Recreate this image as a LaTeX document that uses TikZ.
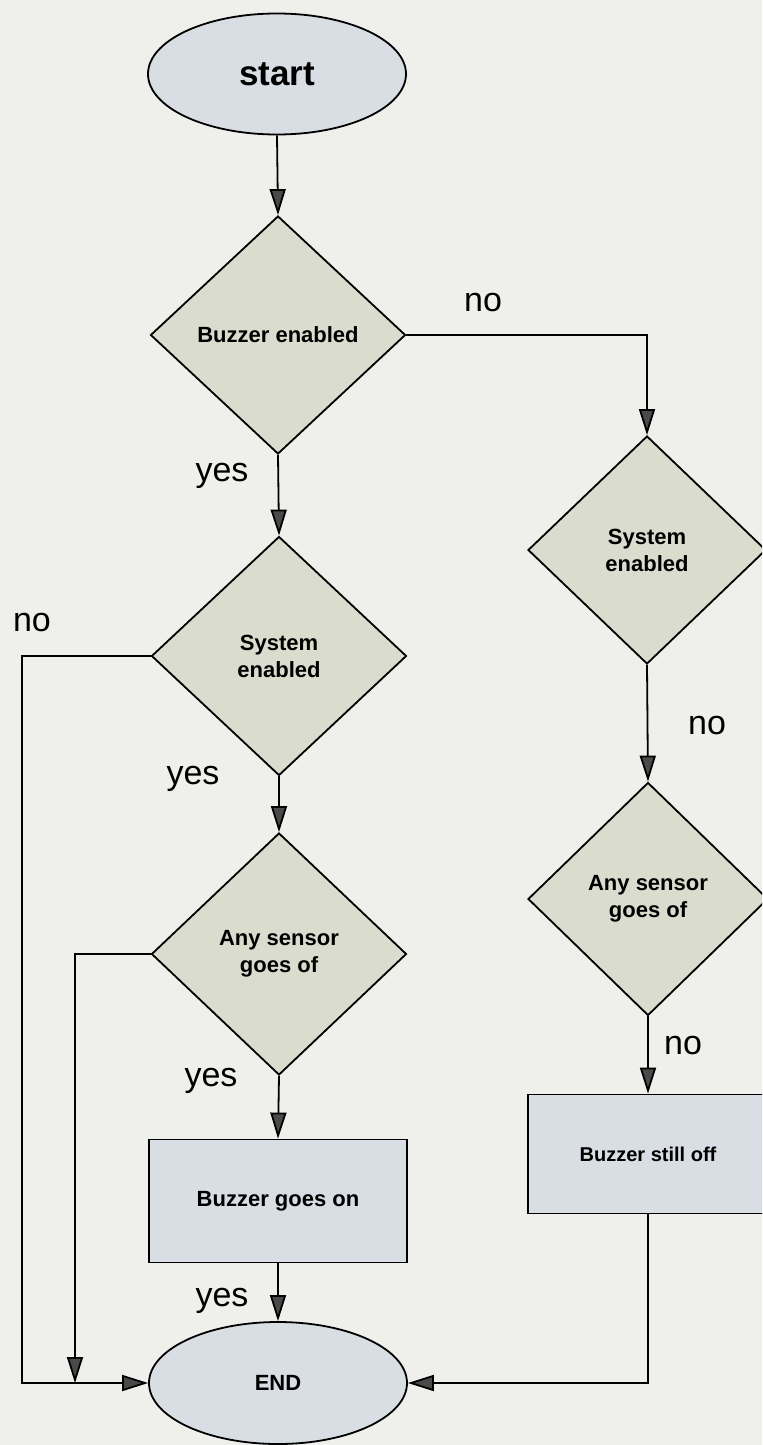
\documentclass[tikz,border=0pt]{standalone}
\usepackage{fontspec}
\setmainfont{Liberation Sans}
\usetikzlibrary{shapes.geometric,arrows.meta,calc}

\definecolor{paper}{HTML}{EFEFEC}
\definecolor{decfill}{HTML}{DADDCE}
\definecolor{termfill}{HTML}{D8DEE4}
\definecolor{tipgray}{HTML}{4A4A4A}

\tikzset{
  shapeline/.style={draw=black, line width=1.8bp},
  terminal/.style={shapeline, ellipse, fill=termfill, inner sep=0pt,
    minimum width=258bp, minimum height=121bp,
    font=\bfseries\fontsize{22bp}{27bp}\selectfont},
  decision/.style={shapeline, diamond, fill=decfill, inner sep=0pt, align=center,
    font=\bfseries\fontsize{22bp}{27bp}\selectfont},
  process/.style={shapeline, rectangle, fill=termfill, inner sep=0pt,
    minimum height=122bp, font=\bfseries\fontsize{22bp}{27bp}\selectfont},
  flow/.style={draw=black, line width=1.8bp,
    -{Triangle[length=26bp,width=16bp,fill=tipgray]}},
  answer/.style={anchor=base, inner sep=0pt, font=\fontsize{34bp}{40bp}\selectfont},
}

\begin{document}
\begin{tikzpicture}[x=1bp, y=-1bp]
  \useasboundingbox (0,0) rectangle (762,1445);
  \clip (0,0) rectangle (762,1445);
  \fill[paper] (0,0) rectangle (762,1445);

  % terminals
  \node[terminal, font=\bfseries\fontsize{35bp}{40bp}\selectfont] (start) at (277,74) {start};
  \node[terminal, minimum height=122bp] (end) at (278,1383) {END};

  % left column
  \node[decision, minimum width=255bp, minimum height=238bp] (buzz) at (278,335) {Buzzer enabled};
  \node[decision, minimum width=255bp, minimum height=239bp] (sysL) at (279,656) {System\\enabled};
  \node[decision, minimum width=255bp, minimum height=242bp] (anyL) at (279,954) {Any sensor\\goes of};
  \node[process, minimum width=258bp, minimum height=123bp] (on) at (278,1201) {Buzzer goes on};

  % right column
  \node[decision, minimum width=238bp, minimum height=228bp] (sysR) at (647,550) {System\\enabled};
  \node[decision, minimum width=240bp, minimum height=233bp] (anyR) at (648,899) {Any sensor\\goes of};
  \node[process, minimum width=240bp, minimum height=119bp,
        font=\bfseries\fontsize{20bp}{24bp}\selectfont] (off) at (648,1154) {Buzzer still off};

  % side rails on the left
  \coordinate (railA) at (22,0);
  \coordinate (railB) at (75,0);

  % connectors
  \draw[flow] (start.south) -- (buzz.north);
  \draw[flow] (buzz.east) -| (sysR.north);
  \draw[flow] (buzz.south) -- (sysL.north);
  \draw[flow] (sysL.west) -| (railA |- end.west) -- (end.west);
  \draw[flow] (sysL.south) -- (anyL.north);
  \draw[flow] (anyL.west) -| (railB |- end.west);
  \draw[flow] (anyL.south) -- (on.north);
  \draw[flow] (on.south) -- (end.north);
  \draw[flow] (sysR.south) -- (anyR.north);
  \draw[flow] (anyR.south) -- (off.north);
  \draw[flow] (off.south) |- (end.east);

  % branch labels
  \node[answer] (l1) at (483,311) {no};
  \node[answer] (l2) at (222,481) {yes};
  \node[answer] (l3) at (32,631) {no};
  \node[answer] (l4) at (193,784) {yes};
  \node[answer] (l5) at (707,734) {no};
  \node[answer] (l6) at (211,1086) {yes};
  \node[answer] (l7) at (683,1054) {no};
  \node[answer] (l8) at (222,1306) {yes};
\end{tikzpicture}
\end{document}
